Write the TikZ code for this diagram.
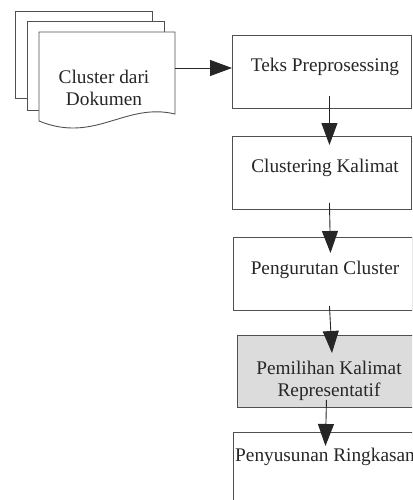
\documentclass[tikz,border=0pt]{standalone}
\usepackage{fontspec}
\setmainfont{Liberation Serif}
\usetikzlibrary{arrows.meta}
\definecolor{edge}{HTML}{505050}
\definecolor{shade}{HTML}{DCDCDC}
\tikzset{
  box/.style={draw=edge, line width=0.9pt, fill=white, anchor=north west, inner sep=0pt},
  sheet/.style={draw=edge, line width=0.9pt, fill=white},
  txt/.style={font=\fontsize{19.3}{22}\selectfont, inner sep=0pt, align=center, text=black!85},
  arr/.style={draw=black!85, line width=0.9pt, -{Triangle[length=22pt,width=16pt]}}
}
\begin{document}
\begin{tikzpicture}[x=1pt,y=-1pt]
\useasboundingbox (0,0) rectangle (412,500);
\clip (0,0) rectangle (412,500);
% document stack
\draw[sheet] (15,11) rectangle (152,98);
\draw[sheet] (27,21) rectangle (164,110);
\draw[sheet] (39,32) -- (175,32) -- (175,114) .. controls (125,102) and (95,144) .. (39,121) -- cycle;
\coordinate (docR) at (175,68);
\node[txt] (tdoc) at (104,88) {Cluster dari\\[0pt]Dokumen};
% process boxes
\node[box, minimum width=179pt, minimum height=73pt] (b1) at (232,35) {};
\node[box, minimum width=179pt, minimum height=73pt] (b2) at (232,136) {};
\node[box, minimum width=179pt, minimum height=73pt] (b3) at (233,237) {};
\node[box, fill=shade, minimum width=176pt, minimum height=72pt] (b4) at (237,335) {};
\node[box, minimum width=181pt, minimum height=90pt] (b5) at (233,432) {};
\node[txt] (t1) at (325,67) {Teks Preprosessing};
\node[txt] (t2) at (325,168) {Clustering Kalimat};
\node[txt] (t3) at (325,270) {Pengurutan Cluster};
\node[txt] (t4) at (329,381) {Pemilihan Kalimat\\[0pt]Representatif};
\node[txt] (t5) at (325,457) {Penyusunan Ringkasan};
% connectors
\draw[arr] (docR) -- (docR -| b1.west);
\draw[arr] ([xshift=7.5pt,yshift=13pt]b1.south) -- ([xshift=7.5pt,yshift=-9pt]b2.north);
\draw[arr] ([xshift=7.5pt,yshift=7pt]b2.south) -- ([xshift=7.5pt,yshift=-16pt]b3.north);
\draw[arr] ([xshift=6.5pt,yshift=5pt]b3.south) -- ([xshift=6.5pt,yshift=-18pt]b4.north);
\draw[arr] ([xshift=1pt,yshift=8pt]b4.south) -- ([xshift=1.5pt,yshift=-14pt]b5.north);
\end{tikzpicture}
\end{document}
